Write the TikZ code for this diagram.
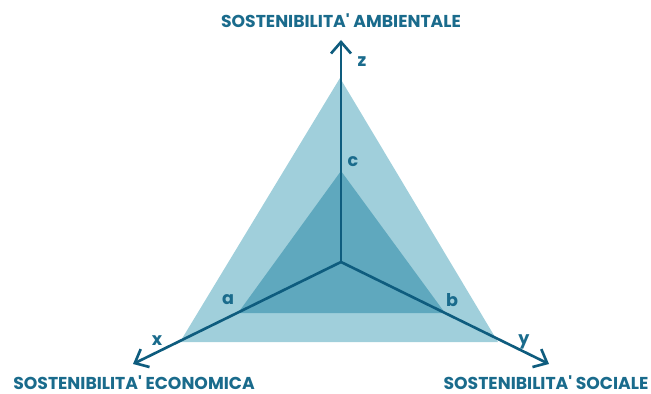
\documentclass[tikz,border=0pt]{standalone}
\usepackage{fontspec}
\setmainfont{Poppins}
\usetikzlibrary{arrows.meta}
\definecolor{outerfill}{HTML}{A0CFDB}
\definecolor{innerfill}{HTML}{5FA8BE}
\definecolor{axiscol}{HTML}{0E5C7E}
\definecolor{textcol}{HTML}{1A6B8C}
\tikzset{
	axis/.style = {draw=axiscol, line width = 1.5pt, -{Straight Barb[length=2.3mm, width=4mm, line width=1.5pt]}},
	title/.style = {text = textcol, font = \fontsize{9.8}{12}\selectfont\bfseries, inner sep = 0},
	letter/.style = {text = textcol, font = \fontsize{10}{12}\selectfont\bfseries, inner sep = 0}
}
\begin{document}
\begin{tikzpicture}[x=0.02cm, y=-0.02cm]
			\useasboundingbox (0,0) rectangle (651,394);
			\coordinate (O) at (341,262);
			\coordinate (outx) at (180,342);
			\coordinate (outy) at (498,342);
			\coordinate (outz) at (340,78);
			\coordinate (a) at (238,313);
			\coordinate (b) at (445,313);
			\coordinate (c) at (341,171);
			\coordinate (xend) at (133,364);
			\coordinate (yend) at (549,364);
			\coordinate (zend) at (341,40);
			\fill[outerfill] (outx) -- (outy) -- (outz) -- cycle;
			\fill[innerfill] (a) -- (b) -- (c) -- cycle;
			\draw[axis] (O) -- (zend);
			\draw[axis] (O) -- (xend);
			\draw[axis] (O) -- (yend);
			\node[letter] (zlab) at (362,62) {z};
			\node[letter] (xlab) at (157,341) {x};
			\node[letter] (ylab) at (524,342) {y};
			\node[letter] (alab) at (228,300) {a};
			\node[letter] (blab) at (452,300) {b};
			\node[letter] (clab) at (353,162) {c};
			\node[title] (amb) at (341,21) {SOSTENIBILITA\textquotesingle\ AMBIENTALE};
			\node[title] (eco) at (134,383) {SOSTENIBILITA\textquotesingle\ ECONOMICA};
			\node[title] (soc) at (546,383) {SOSTENIBILITA\textquotesingle\ SOCIALE};
		\end{tikzpicture}
\end{document}
